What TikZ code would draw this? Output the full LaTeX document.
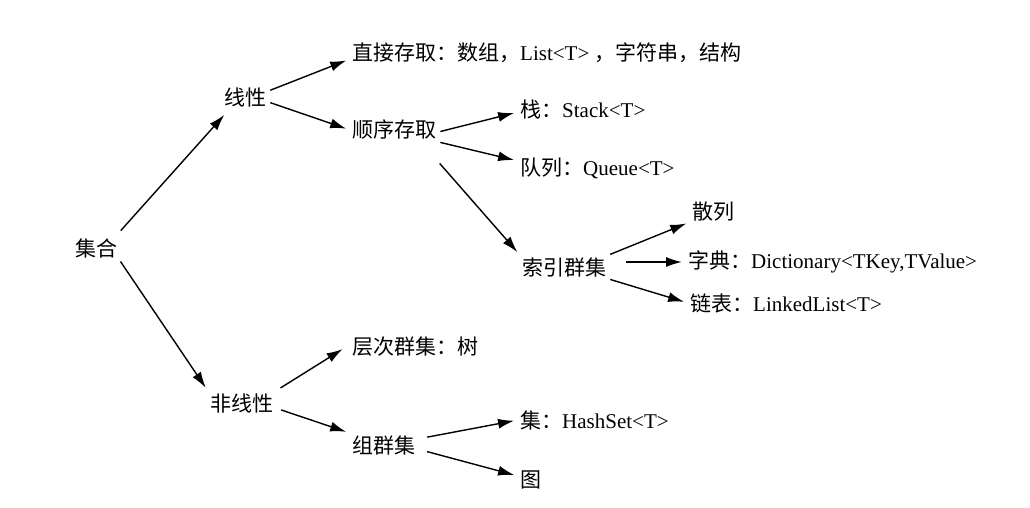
\documentclass[tikz,border=0pt]{standalone}
\usepackage{fontspec}
\setmainfont{Liberation Serif}
\newfontfamily\cjk{Noto Sans CJK SC}
\usetikzlibrary{arrows.meta}
\tikzset{
  item/.style={anchor=west, inner sep=2pt, font=\fontsize{21}{24}\selectfont},
  arr/.style={-{Latex[length=16pt,width=10pt]}, line width=1.4pt, draw=black,
              shorten >=4pt, shorten <=2pt}
}

\begin{document}
\begin{tikzpicture}[x=1pt, y=-1pt]
\useasboundingbox (0,0) rectangle (1030,508);
% level 0 and 1
\node[item] (jihe) at (73,248) {\cjk 集合};
\node[item] (xianxing) at (222,97) {\cjk 线性};
\node[item] (feixianxing) at (208,403) {\cjk 非线性};
% linear
\node[item] (zhijie) at (350,53) {{\cjk 直接存取：数组，}List<T> {\cjk ，字符串，结构}};
\node[item] (shunxu) at (350,130) {\cjk 顺序存取};
\node[item] (zhan) at (518,110) {{\cjk 栈：}Stack<T>};
\node[item] (duilie) at (518,168) {{\cjk 队列：}Queue<T>};
\node[item] (suoyin) at (520,267) {\cjk 索引群集};
\node[item] (sanlie) at (690,212) {\cjk 散列};
\node[item] (zidian) at (686,262) {{\cjk 字典：}Dictionary<TKey,TValue>};
\node[item] (lianbiao) at (688,303) {{\cjk 链表：}LinkedList<T>};
% non-linear
\node[item] (cengci) at (350,347) {\cjk 层次群集：树};
\node[item] (zuqunji) at (350,445) {\cjk 组群集};
\node[item] (ji) at (518,420) {{\cjk 集：}HashSet<T>};
\node[item] (tu) at (518,480) {\cjk 图};
% connectors
\draw[arr] ([yshift=4pt]jihe.north east) -- ([yshift=-3pt,xshift=5pt]xianxing.south west);
\draw[arr] (jihe.south east) -- (feixianxing.north west);
\draw[arr] ([yshift=6pt]xianxing.east) -- ([yshift=-6pt]zhijie.west);
\draw[arr] ([yshift=-5pt]xianxing.east) -- (shunxu.west);
\draw[arr] ([yshift=-2pt]shunxu.east) -- ([yshift=-2pt]zhan.west);
\draw[arr] (shunxu.south east) -- ([yshift=7pt]duilie.west);
\draw[arr] ([yshift=-20pt]shunxu.south east) -- (suoyin.north west);
\draw[arr] (suoyin.north east) -- ([yshift=-10pt]sanlie.west);
\draw[arr, shorten <=18pt] ([yshift=5pt]suoyin.east) -- (zidian.west);
\draw[arr] (suoyin.south east) -- (lianbiao.west);
\draw[arr, shorten <=6pt] (feixianxing.north east) -- ([xshift=-4pt]cengci.west);
\draw[arr, shorten <=6pt] ([yshift=-5pt]feixianxing.east) -- (zuqunji.north west);
\draw[arr, shorten <=10pt] ([yshift=6pt]zuqunji.east) -- (ji.west);
\draw[arr, shorten <=10pt] ([yshift=-4pt]zuqunji.east) -- ([yshift=4pt]tu.west);
\end{tikzpicture}
\end{document}
